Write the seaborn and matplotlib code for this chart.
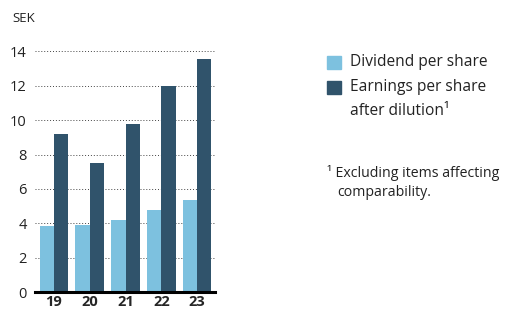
import pandas as pd
import matplotlib.pyplot as plt
import seaborn as sns
from matplotlib.patches import Rectangle

# values (SEK)
years = ['19', '20', '21', '22', '23']
dividend = [3.85, 3.9, 4.2, 4.8, 5.35]
eps = [9.2, 7.5, 9.8, 12.0, 13.55]
series = ['Dividend per share', 'Earnings per share after dilution']
colors = ['#7dc1df', '#30536b']

df = pd.DataFrame({
    'year': years * 2,
    'value': dividend + eps,
    'series': [series[0]] * len(years) + [series[1]] * len(years),
})

sns.set_style('white')
plt.rcParams['font.family'] = ['Open Sans', 'DejaVu Sans']

fig = plt.figure(figsize=(5.07, 3.09), dpi=100)
ax = fig.add_axes([35 / 507, 17 / 309, 180 / 507, 256 / 309])

sns.barplot(data=df, x='year', y='value', hue='series', palette=colors,
            width=0.8, saturation=1, linewidth=0, legend=False, ax=ax, zorder=2)

ax.set_xlim(-0.53, 4.5)
ax.set_ylim(0, 14.9)
ax.set_yticks(range(0, 15, 2))
ax.yaxis.grid(True, linestyle=(0, (1, 2)), color='#444444', linewidth=0.7, zorder=0)
ax.set_axisbelow(True)
for s in ['top', 'right', 'left']:
    ax.spines[s].set_visible(False)
ax.spines['bottom'].set_linewidth(2.2)
ax.spines['bottom'].set_color('black')
ax.set_xlabel('')
ax.set_ylabel('')
ax.tick_params(axis='y', length=0, labelsize=10.5, pad=6, colors='#222222')
ax.tick_params(axis='x', length=0, labelsize=10.5, pad=2)
for lab in ax.get_xticklabels():
    lab.set_fontweight('bold')

fig.text(12 / 507, 1 - 18 / 309, 'SEK', fontsize=9.5, va='center', ha='left', color='#222222')

# legend
fs = 11.2
fig.add_artist(Rectangle((327 / 507, 1 - 69 / 309), 14 / 507, 13 / 309,
                         color=colors[0], transform=fig.transFigure))
fig.add_artist(Rectangle((327 / 507, 1 - 94 / 309), 14 / 507, 13 / 309,
                         color=colors[1], transform=fig.transFigure))
fig.text(350 / 507, 1 - 62 / 309, 'Dividend per share', fontsize=fs, va='center', color='#222222')
fig.text(350 / 507, 1 - 87 / 309, 'Earnings per share', fontsize=fs, va='center', color='#222222')
fig.text(350 / 507, 1 - 111 / 309, 'after dilution¹', fontsize=fs, va='center', color='#222222')

fig.text(327 / 507, 1 - 173 / 309, '¹ Excluding items affecting', fontsize=10.2, va='center', color='#222222')
fig.text(337 / 507, 1 - 192 / 309, 'comparability.', fontsize=10.2, va='center', color='#222222')

fig.savefig('out.png', dpi=100)
